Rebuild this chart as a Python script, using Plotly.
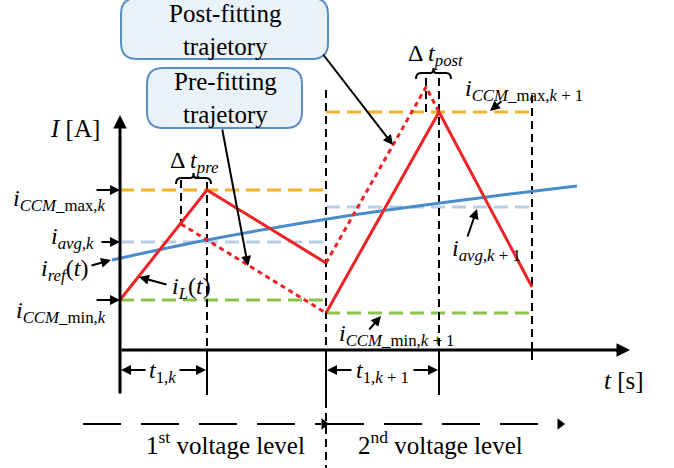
import plotly.graph_objects as go

W, H = 674, 468
FONT = "Liberation Serif, Times New Roman, serif"

# ---------------- diagram data (sketch units) ----------------
# axes
y_axis = dict(x=120, y_bottom=395, y_top=115)
x_axis = dict(y=350, x_start=120, x_end=630)

# reference levels per switching interval: (x0, x1, y)
lvl_max = [(120, 326, 190), (326, 532, 112)]
lvl_avg = [(120, 326, 242), (326, 532, 207)]
lvl_min = [(120, 326, 300), (326, 532, 313)]

# inductor current trajectories
iL1_x, iL1_y = [120, 207, 326], [300, 190, 263]
iL2_x, iL2_y = [326, 439, 532], [313, 112, 287]
pre_x, pre_y = [181, 326], [224, 313]
post_x, post_y = [326, 426, 439], [263, 87, 112]

# reference current
iref_x = [112, 207, 340, 487, 577]
iref_y = [260, 240, 217, 197, 186]

# dashed black markers: (x, y0, y1)
vdash = [(181, 180, 224), (207, 182, 350), (326, 90, 350), (426, 78, 112),
         (439, 78, 350), (532, 95, 350), (326, 400, 468)]
# solid black bars: (x, y0, y1)
vbars = [(207, 350, 395), (326, 350, 400), (439, 350, 395), (532, 342, 360)]

# voltage level dashed arrows: (x0, x1, y)
vlevels = [(83, 321, 424), (326, 540, 424)]
vlevel_tips = [(324, 424), (560, 424)]

C_RED = "#ee2326"
C_BLUE = "#4a8ccb"
C_LBLUE = "#b9cde8"
C_ORANGE = "#f2b229"
C_GREEN = "#8bc24c"
C_BOX = "#5a8fc2"

fig = go.Figure()

def line(xs, ys, color, width, dash="solid", shape="linear"):
    fig.add_trace(go.Scatter(x=xs, y=ys, mode="lines", hoverinfo="skip",
                             line=dict(color=color, width=width, dash=dash, shape=shape),
                             showlegend=False))

# level lines
for (x0, x1, y) in lvl_max:
    line([x0, x1], [y, y], C_ORANGE, 3, "14px,7px")
for (x0, x1, y) in lvl_avg:
    line([x0, x1], [y, y], C_LBLUE, 3, "14px,7px")
for (x0, x1, y) in lvl_min:
    line([x0, x1], [y, y], C_GREEN, 3, "14px,7px")

# vertical markers
for (x, y0, y1) in vdash:
    line([x, x], [y0, y1], "black", 2, "8px,5px")
for (x, y0, y1) in vbars:
    line([x, x], [y0, y1], "black", 2)

# reference current
line(iref_x, iref_y, C_BLUE, 3, shape="spline")

# trajectories
line(pre_x, pre_y, C_RED, 3, "5px,4px")
line(post_x, post_y, C_RED, 3, "5px,4px")
line(iL1_x, iL1_y, C_RED, 3)
line(iL2_x, iL2_y, C_RED, 3)

# voltage level lines
for (x0, x1, y) in vlevels:
    line([x0, x1], [y, y], "black", 2, "38px,20px")
fig.add_trace(go.Scatter(x=[p[0] for p in vlevel_tips], y=[p[1] for p in vlevel_tips],
                         mode="markers", hoverinfo="skip", showlegend=False,
                         marker=dict(symbol="triangle-right", size=10, color="black")))


def arrow(x0, y0, x1, y1, w=2, size=1.0, head=2):
    fig.add_annotation(x=x1, y=y1, ax=x0, ay=y0, xref="x", yref="y", axref="x", ayref="y",
                       showarrow=True, arrowhead=head, arrowwidth=w, arrowsize=size,
                       arrowcolor="black", text="")

# axes
arrow(y_axis["x"], y_axis["y_bottom"], y_axis["x"], y_axis["y_top"], w=3, size=0.9)
arrow(x_axis["x_start"], x_axis["y"], x_axis["x_end"], x_axis["y"], w=3, size=0.9)

# label arrows
arrow(95, 190, 120, 190)
arrow(100, 242, 120, 242)
arrow(90, 266, 111, 260)
arrow(95, 300, 120, 300)
arrow(168, 285, 139, 277)
arrow(503, 100, 490, 111)
arrow(467, 238, 477, 209)
arrow(368, 331, 381, 316)
# pointer lines from boxes
arrow(222, 128, 248, 266)
arrow(322, 53, 393, 145)
# t1 spans
arrow(147, 370, 121, 370)
arrow(178, 370, 206, 370)
arrow(353, 370, 327, 370)
arrow(412, 370, 438, 370)


def rrect(x0, y0, x1, y1, r):
    return (f"M {x0+r} {y0} L {x1-r} {y0} Q {x1} {y0} {x1} {y0+r} L {x1} {y1-r} "
            f"Q {x1} {y1} {x1-r} {y1} L {x0+r} {y1} Q {x0} {y1} {x0} {y1-r} "
            f"L {x0} {y0+r} Q {x0} {y0} {x0+r} {y0} Z")

fig.add_shape(type="path", path=rrect(121, -2, 328, 59, 16), xref="x", yref="y",
              line=dict(color=C_BOX, width=2), fillcolor="#e9f1f9", layer="above")
fig.add_shape(type="path", path=rrect(147, 68, 302, 128, 16), xref="x", yref="y",
              line=dict(color=C_BOX, width=2), fillcolor="#e9f1f9", layer="above")

# brackets for delta t
def bracket(x0, x1, y):
    xm = (x0 + x1) / 2
    return (f"M {x0} {y+6} Q {x0} {y} {x0+5} {y} L {xm-3} {y} Q {xm} {y} {xm} {y-5} "
            f"Q {xm} {y} {xm+3} {y} L {x1-5} {y} Q {x1} {y} {x1} {y+6}")

fig.add_shape(type="path", path=bracket(176, 211, 178), xref="x", yref="y",
              line=dict(color="black", width=2))
fig.add_shape(type="path", path=bracket(416, 451, 73), xref="x", yref="y",
              line=dict(color="black", width=2))


def text(x, y, s, size=24, xanchor="center", yanchor="middle"):
    fig.add_annotation(x=x, y=y, xref="x", yref="y", text=s, showarrow=False,
                       xanchor=xanchor, yanchor=yanchor,
                       font=dict(family=FONT, size=size, color="black"))

text(75, 128, "<i>I</i> [A]", size=25)
text(108, 200, "<i>i</i><sub><i>CCM</i>_max,<i>k</i></sub>", xanchor="right")
text(96, 238, "<i>i</i><sub><i>avg</i>,<i>k</i></sub>", xanchor="right")
text(90, 270, "<i>i</i><sub><i>ref</i></sub>(<i>t</i>)", xanchor="right")
text(108, 312, "<i>i</i><sub><i>CCM</i>_min,<i>k</i></sub>", xanchor="right")
text(191, 288, "<i>i</i><sub><i>L</i></sub>(<i>t</i>)")
text(194, 162, "Δ <i>t</i><sub><i>pre</i></sub>")
text(435, 55, "Δ <i>t</i><sub><i>post</i></sub>")
text(463, 90, "<i>i</i><sub><i>CCM</i>_max,<i>k</i> + 1</sub>", xanchor="left")
text(450, 250, "<i>i</i><sub><i>avg</i>,<i>k</i> + 1</sub>", xanchor="left")
text(337, 335, "<i>i</i><sub><i>CCM</i>_min,<i>k</i> + 1</sub>", xanchor="left")
text(162, 372, "<i>t</i><sub>1,<i>k</i></sub>")
text(382, 372, "<i>t</i><sub>1,<i>k</i> + 1</sub>")
text(624, 380, "<i>t</i> [s]", size=25)
text(225, 443, "1<sup>st</sup> voltage level", size=25)
text(440, 443, "2<sup>nd</sup> voltage level", size=25)
text(225, 30, "Post-fitting<br>trajetory", size=25)
text(225, 98, "Pre-fitting<br>trajetory", size=25)

fig.update_layout(
    width=W, height=H, margin=dict(l=0, r=0, t=0, b=0),
    paper_bgcolor="white", plot_bgcolor="white",
    xaxis=dict(range=[0, W], visible=False, fixedrange=True),
    yaxis=dict(range=[H, 0], visible=False, fixedrange=True),
    showlegend=False,
)

fig.write_html("out.html", config={"displayModeBar": False},
               post_script="document.body.style.margin='0px';document.body.style.padding='0px';")
